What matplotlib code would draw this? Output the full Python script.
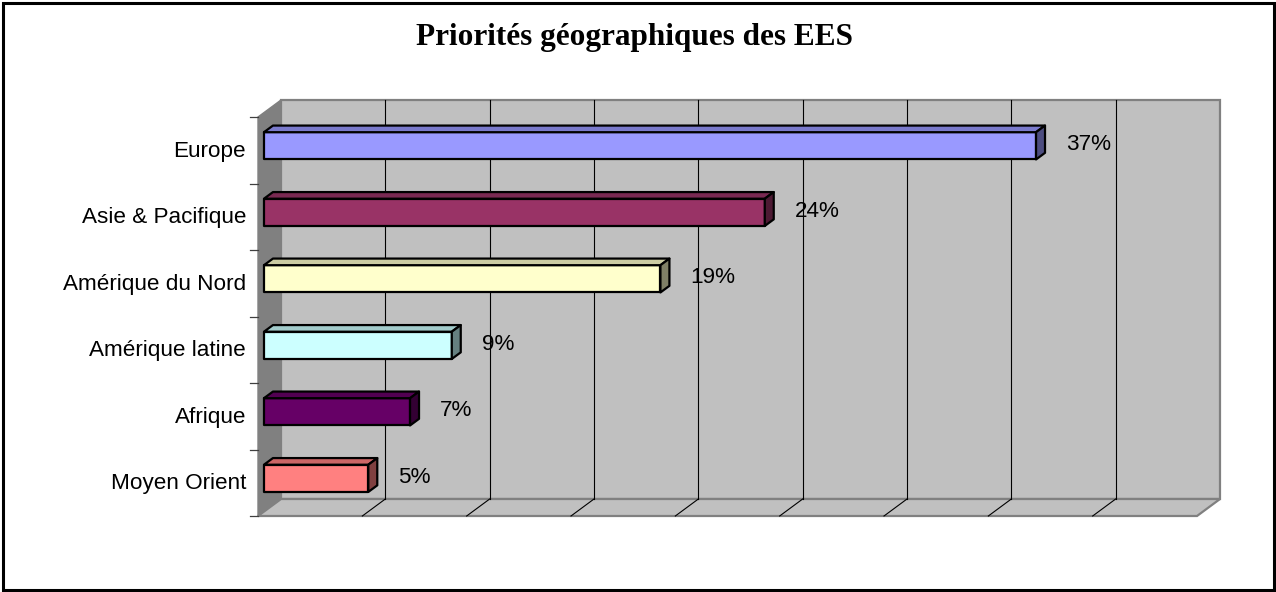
import matplotlib
matplotlib.use("Agg")
import matplotlib.pyplot as plt
import matplotlib.patches as mpatches
import matplotlib.transforms as mtransforms

# data, top to bottom as in the chart
categories = ["Europe", "Asie & Pacifique", "Amérique du Nord",
              "Amérique latine", "Afrique", "Moyen Orient"]
values = [37, 24, 19, 9, 7, 5]
bar_colors = ["#9999FF", "#993366", "#FFFFCC", "#CCFFFF", "#660066", "#FF8080"]
x_ticks = [0, 5, 10, 15, 20, 25, 30, 35, 40, 45]
title = "Priorités géographiques des EES"

W, H, DPI = 1276, 592, 100
X_MAX = x_ticks[-1]
N = len(categories)

fig = plt.figure(figsize=(W / DPI, H / DPI), dpi=DPI)
# axes = front plane of the 3D box
left_px, right_px, top_px, bottom_px = 258, 1197, 117, 516
ax = fig.add_axes([left_px / W, 1 - bottom_px / H,
                   (right_px - left_px) / W, (bottom_px - top_px) / H])
ax.set_xlim(0, X_MAX)
ax.set_ylim(0, N)
ax.axis("off")

# depth vector of the box (pixels), converted to data units
px_per_x = (right_px - left_px) / X_MAX
px_per_y = (bottom_px - top_px) / N
DX = 23 / px_per_x
DY = 17 / px_per_y


def P(x, y, d=0.0):
    """Project a point at depth d (0 = front, 1 = back wall)."""
    return (x + d * DX, y + d * DY)


def poly(points, **kw):
    p = mpatches.Polygon(points, closed=True, clip_on=False, **kw)
    ax.add_patch(p)
    return p


WALL = "#C0C0C0"
SIDE = "#808080"
EDGE = "#808080"

# left wall, back wall, floor
poly([P(0, 0), P(0, N), P(0, N, 1), P(0, 0, 1)], facecolor=SIDE,
     edgecolor=SIDE, lw=1, zorder=1)
poly([P(0, 0, 1), P(X_MAX, 0, 1), P(X_MAX, N, 1), P(0, N, 1)],
     facecolor=WALL, edgecolor=EDGE, lw=1.6, zorder=1)
poly([P(0, 0), P(X_MAX, 0), P(X_MAX, 0, 1), P(0, 0, 1)],
     facecolor=WALL, edgecolor=EDGE, lw=1.6, zorder=1)

# gridlines on the back wall and on the floor
for t in x_ticks[1:-1]:
    ax.plot(*zip(P(t, 0, 1), P(t, N, 1)), color="black", lw=0.8,
            zorder=2, clip_on=False)
    ax.plot(*zip(P(t, 0, 0), P(t, 0, 1)), color="black", lw=0.8,
            zorder=2, clip_on=False)

# category tick marks on the left
for k in range(N + 1):
    ax.plot([-8 / px_per_x, 0], [k, k], color="#404040", lw=0.9, zorder=2,
            clip_on=False)


def shade(hex_color, f):
    r, g, b = matplotlib.colors.to_rgb(hex_color)
    return (r * f, g * f, b * f)


BAR_H = 0.41
D0, D1 = 0.26, 0.65
label_tr = mtransforms.offset_copy(ax.transData, fig=fig, x=36, y=0, units="dots")
cat_tr = mtransforms.offset_copy(ax.transData, fig=fig, x=-12, y=-6.3, units="dots")

for i, (name, v, c) in enumerate(zip(categories, values, bar_colors)):
    yc = N - 0.5 - i
    y0, y1 = yc - BAR_H / 2, yc + BAR_H / 2
    ekw = dict(edgecolor="black", lw=1.6, joinstyle="round", zorder=3)
    # front face
    poly([P(0, y0, D0), P(v, y0, D0), P(v, y1, D0), P(0, y1, D0)],
         facecolor=c, **ekw)
    # top face
    poly([P(0, y1, D0), P(v, y1, D0), P(v, y1, D1), P(0, y1, D1)],
         facecolor=shade(c, 0.8), **ekw)
    # right end face
    poly([P(v, y0, D0), P(v, y0, D1), P(v, y1, D1), P(v, y1, D0)],
         facecolor=shade(c, 0.5), **ekw)
    ax.text(v, yc, f"{v}%", transform=label_tr, ha="left", va="baseline",
            fontsize=16.2, family="Liberation Sans", zorder=4)
    ax.text(0, yc, name, transform=cat_tr, ha="right", va="baseline",
            fontsize=16.2, family="Liberation Sans", zorder=4)

fig.text(635 / W, 1 - 45 / H, title, ha="center", va="baseline",
         fontsize=22.5, fontweight="bold", family="Liberation Serif")

# outer frame of the chart area
fig.patches.append(mpatches.Rectangle((3 / W, 2.5 / H), 1 - 5.5 / W, 1 - 5 / H,
                                      transform=fig.transFigure, fill=False,
                                      edgecolor="black", lw=2.2))

fig.savefig("out.png", dpi=DPI, facecolor="white")
